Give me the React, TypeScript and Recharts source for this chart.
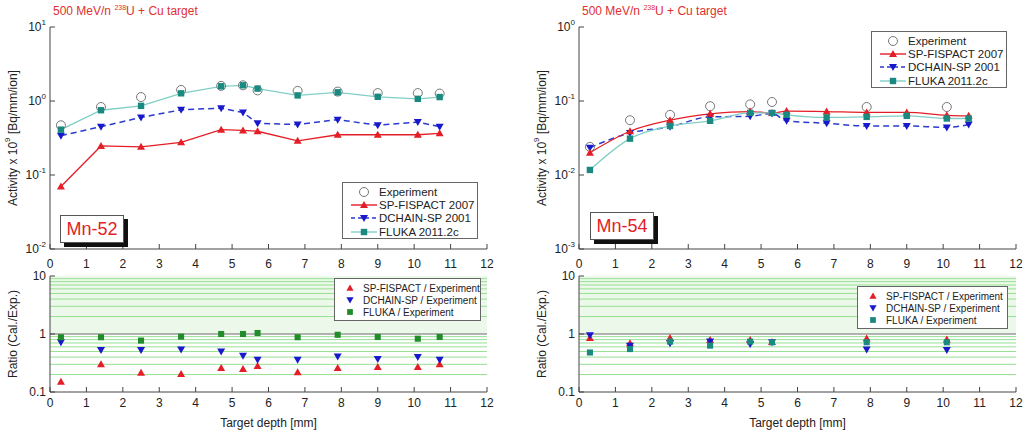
import React from "react";
import {
  ComposedChart,
  Line,
  XAxis,
  YAxis,
  ReferenceArea,
  ReferenceLine,
} from "recharts";

const FONT = "'Liberation Sans', Arial, sans-serif";

// target depth [mm] of each foil
const depth = [0.3, 1.4, 2.5, 3.6, 4.7, 5.3, 5.7, 6.8, 7.9, 9.0, 10.1, 10.7];
const xTicks = [0, 1, 2, 3, 4, 5, 6, 7, 8, 9, 10, 11, 12];

// Mn-52 activity x 10^9 [Bq/mm/ion]
const mn52Exp = [0.47, 0.83, 1.13, 1.41, 1.6, 1.63, 1.39, 1.37, 1.34, 1.28, 1.28, 1.26];
const mn52Fispact = [0.07, 0.247, 0.24, 0.276, 0.41, 0.4, 0.39, 0.29, 0.35, 0.35, 0.35, 0.366];
const mn52Dchain = [0.34, 0.45, 0.6, 0.76, 0.8, 0.7, 0.5, 0.48, 0.56, 0.47, 0.52, 0.45];
const mn52Fluka = [0.41, 0.75, 0.86, 1.27, 1.58, 1.63, 1.47, 1.19, 1.31, 1.14, 1.07, 1.13];

// Mn-52 ratio Cal./Exp.
const mn52RatioFispact = [0.15, 0.3, 0.215, 0.205, 0.26, 0.25, 0.28, 0.22, 0.26, 0.27, 0.27, 0.3];
const mn52RatioDchain = [0.72, 0.53, 0.53, 0.54, 0.5, 0.42, 0.36, 0.36, 0.41, 0.37, 0.4, 0.36];
const mn52RatioFluka = [0.88, 0.88, 0.77, 0.9, 1.0, 1.0, 1.04, 0.88, 0.97, 0.89, 0.83, 0.89];

// Mn-54 activity x 10^9 [Bq/mm/ion]
const mn54Exp = [0.024, 0.055, 0.065, 0.085, 0.09, 0.097, null, null, 0.083, null, 0.083, null];
const mn54Fispact = [0.02, 0.039, 0.055, 0.067, 0.072, 0.069, 0.073, 0.072, 0.07, 0.07, 0.064, 0.063];
const mn54Dchain = [0.0234, 0.037, 0.045, 0.061, 0.062, 0.068, 0.054, 0.05, 0.046, 0.046, 0.044, 0.048];
const mn54Fluka = [0.0117, 0.031, 0.046, 0.054, 0.069, 0.069, 0.065, 0.06, 0.061, 0.063, 0.058, 0.058];

// Mn-54 ratio Cal./Exp.
const mn54RatioFispact = [0.85, 0.69, 0.85, 0.79, 0.79, 0.73, null, null, 0.84, null, 0.8, null];
const mn54RatioDchain = [0.95, 0.63, 0.69, 0.74, 0.67, 0.72, null, null, 0.54, null, 0.53, null];
const mn54RatioFluka = [0.48, 0.55, 0.74, 0.63, 0.74, 0.72, null, null, 0.72, null, 0.72, null];

const RED = "#e41e26";
const BLUE = "#1818cc";
const TEAL = "#1a8a80";
const GREEN = "#228c2a";
const GRAY = "#777";
const AXIS = "#444";

type Col = (number | null)[];

const buildRows = (cols: Record<string, Col>) =>
  depth.map((x, i) => {
    const r: Record<string, number | undefined> = { x };
    Object.keys(cols).forEach((k) => {
      const v = cols[k][i];
      r[k] = v == null ? undefined : v;
    });
    return r;
  });

// tick positions for log axes
const logMinor = (from: number, to: number) => {
  const out: number[] = [];
  for (let d = from; d < to * 0.999; d *= 10) {
    for (let k = 1; k <= 9; k++) out.push(+(d * k).toPrecision(3));
  }
  out.push(to);
  return out;
};

const marker =
  (kind: string, color: string, s = 4) =>
  (p: any) => {
    const { cx, cy, index, value } = p;
    const key = `${kind}-${color}-${index}`;
    if (value == null || cx == null || cy == null || isNaN(cy)) return <g key={key} />;
    if (kind === "up")
      return (
        <polygon
          key={key}
          points={`${cx},${cy - s} ${cx - s},${cy + s * 0.75} ${cx + s},${cy + s * 0.75}`}
          fill={color}
        />
      );
    if (kind === "down")
      return (
        <polygon
          key={key}
          points={`${cx},${cy + s} ${cx - s},${cy - s * 0.75} ${cx + s},${cy - s * 0.75}`}
          fill={color}
        />
      );
    if (kind === "sq")
      return <rect key={key} x={cx - s * 0.8} y={cy - s * 0.8} width={s * 1.6} height={s * 1.6} fill={color} />;
    return <circle key={key} cx={cx} cy={cy} r={s} fill="none" stroke={color} strokeWidth={1} />;
  };

const PowTick = (props: any) => {
  const { x, y, payload } = props;
  const e = Math.round(Math.log10(payload.value));
  return (
    <text x={x} y={y} dy={4} textAnchor="end" fontSize={12} fill="#222" fontFamily={FONT}>
      <tspan>10</tspan>
      <tspan dy={-6} fontSize={8}>
        {e}
      </tspan>
    </text>
  );
};

const RatioTick = (props: any) => {
  const { x, y, payload } = props;
  return (
    <text x={x} y={y} dy={4} textAnchor="end" fontSize={12} fill="#222" fontFamily={FONT}>
      {payload.value}
    </text>
  );
};

const YTitle = (props: any) => {
  const { viewBox, children } = props;
  const cx = 13;
  const cy = viewBox.y + viewBox.height / 2;
  return (
    <text
      x={cx}
      y={cy}
      transform={`rotate(-90 ${cx} ${cy})`}
      textAnchor="middle"
      dominantBaseline="central"
      fontSize={12}
      fill="#222"
      fontFamily={FONT}
    >
      {children}
    </text>
  );
};

function ActivityChart({ rows, domain, curve }: { rows: any[]; domain: [number, number]; curve: any }) {
  const major = logMinor(domain[0], domain[1]).filter((v) => Math.abs(Math.log10(v) % 1) < 1e-6);
  const minor = logMinor(domain[0], domain[1]);
  return (
    <ComposedChart width={500} height={271} data={rows} margin={{ top: 27, right: 13, left: 0, bottom: 0 }}>
      <XAxis
        xAxisId="b"
        dataKey="x"
        type="number"
        domain={[0, 12]}
        ticks={xTicks}
        height={22}
        stroke={AXIS}
        tickSize={-5}
        tickMargin={15}
        tick={{ fontSize: 12, fill: "#222", fontFamily: FONT }}
        allowDataOverflow
      />
      <XAxis
        xAxisId="t"
        orientation="top"
        dataKey="x"
        type="number"
        domain={[0, 12]}
        ticks={xTicks}
        height={0}
        mirror
        tick={false}
        tickSize={5}
        stroke={AXIS}
      />
      <YAxis
        yAxisId="l"
        scale="log"
        domain={domain}
        ticks={major}
        allowDataOverflow
        width={50}
        stroke={AXIS}
        tickSize={-5}
        tickMargin={9}
        tick={<PowTick />}
        label={
          <YTitle>
            <tspan>Activity x 10</tspan>
            <tspan dy={-6} fontSize={8}>
              9
            </tspan>
            <tspan dy={6}> [Bq/mm/ion]</tspan>
          </YTitle>
        }
      />
      <YAxis
        yAxisId="r"
        orientation="right"
        scale="log"
        domain={domain}
        ticks={minor}
        allowDataOverflow
        width={0}
        mirror
        tick={false}
        tickSize={3}
        stroke={AXIS}
      />
      <Line
        xAxisId="b"
        yAxisId="l"
        dataKey="exp"
        stroke="none"
        dot={marker("circ", GRAY, 4.5)}
        activeDot={false}
        isAnimationActive={false}
      />
      <Line
        xAxisId="b"
        yAxisId="l"
        type={curve}
        dataKey="dch"
        stroke="#2a3ad0"
        strokeWidth={1.5}
        strokeDasharray="6 4"
        dot={marker("down", BLUE, 4)}
        activeDot={false}
        isAnimationActive={false}
      />
      <Line
        xAxisId="b"
        yAxisId="l"
        type={curve}
        dataKey="fis"
        stroke={RED}
        strokeWidth={1.3}
        dot={marker("up", RED, 4)}
        activeDot={false}
        isAnimationActive={false}
      />
      <Line
        xAxisId="b"
        yAxisId="l"
        type={curve}
        dataKey="flk"
        stroke="#80cfc6"
        strokeWidth={1.3}
        dot={marker("sq", TEAL, 4)}
        activeDot={false}
        isAnimationActive={false}
      />
    </ComposedChart>
  );
}

function RatioChart({ rows, flukaColor }: { rows: any[]; flukaColor: string }) {
  const minor = logMinor(0.1, 10);
  const gridLines = minor.filter((v) => v > 0.1 && v < 10 && v !== 1);
  return (
    <ComposedChart width={500} height={171} data={rows} margin={{ top: 14, right: 13, left: 0, bottom: 0 }}>
      <XAxis
        xAxisId="b"
        dataKey="x"
        type="number"
        domain={[0, 12]}
        ticks={xTicks}
        height={41}
        stroke={AXIS}
        tickSize={-5}
        tickMargin={11}
        tick={{ fontSize: 12, fill: "#222", fontFamily: FONT }}
        label={{
          value: "Target depth [mm]",
          position: "insideBottom",
          offset: 6,
          fontSize: 12,
          fill: "#222",
          fontFamily: FONT,
        }}
        allowDataOverflow
      />
      <XAxis
        xAxisId="t"
        orientation="top"
        dataKey="x"
        type="number"
        domain={[0, 12]}
        ticks={xTicks}
        height={0}
        mirror
        tick={false}
        tickSize={5}
        stroke={AXIS}
      />
      <YAxis
        yAxisId="l"
        scale="log"
        domain={[0.1, 10]}
        ticks={[0.1, 1, 10]}
        allowDataOverflow
        width={50}
        stroke={AXIS}
        tickSize={-5}
        tickMargin={9}
        tick={<RatioTick />}
        label={<YTitle>Ratio (Cal./Exp.)</YTitle>}
      />
      <YAxis
        yAxisId="r"
        orientation="right"
        scale="log"
        domain={[0.1, 10]}
        ticks={minor}
        allowDataOverflow
        width={0}
        mirror
        tick={false}
        tickSize={3}
        stroke={AXIS}
      />
      <ReferenceArea
        xAxisId="b"
        yAxisId="l"
        x1={0}
        x2={12}
        y1={1}
        y2={10}
        fill="#e4f5df"
        fillOpacity={0.7}
        stroke="none"
      />
      {gridLines.map((v) => (
        <ReferenceLine key={v} xAxisId="b" yAxisId="l" y={v} stroke="#96e092" strokeWidth={1} />
      ))}
      <ReferenceLine xAxisId="b" yAxisId="l" y={1} stroke="#9a9a9a" strokeWidth={1.5} />
      <Line
        xAxisId="b"
        yAxisId="l"
        dataKey="fis"
        stroke="none"
        dot={marker("up", RED, 4)}
        activeDot={false}
        isAnimationActive={false}
      />
      <Line
        xAxisId="b"
        yAxisId="l"
        dataKey="dch"
        stroke="none"
        dot={marker("down", BLUE, 4)}
        activeDot={false}
        isAnimationActive={false}
      />
      <Line
        xAxisId="b"
        yAxisId="l"
        dataKey="flk"
        stroke="none"
        dot={marker("sq", flukaColor, 3.8)}
        activeDot={false}
        isAnimationActive={false}
      />
    </ComposedChart>
  );
}

const Icon = ({ kind, color, line, dash }: { kind: string; color: string; line?: string; dash?: string }) => (
  <svg width={28} height={12} style={{ flex: "none" }}>
    {line && <line x1={1} y1={6} x2={27} y2={6} stroke={line} strokeWidth={1.4} strokeDasharray={dash} />}
    {marker(kind, color, kind === "circ" ? 4.5 : 4)({ cx: 14, cy: 6, index: 0, value: 1 })}
  </svg>
);

const ActivityLegend = ({ left, top }: { left: number; top: number }) => {
  const items = [
    { kind: "circ", color: GRAY, label: "Experiment" },
    { kind: "up", color: RED, line: RED, label: "SP-FISPACT 2007" },
    { kind: "down", color: BLUE, line: "#2a3ad0", dash: "4 3", label: "DCHAIN-SP 2001" },
    { kind: "sq", color: TEAL, line: "#80cfc6", label: "FLUKA 2011.2c" },
  ];
  return (
    <div
      style={{
        position: "absolute",
        left,
        top,
        width: 136,
        height: 57,
        border: "1px solid #666",
        background: "#fff",
        boxSizing: "border-box",
        paddingTop: 2,
        paddingLeft: 7,
        fontFamily: FONT,
        fontSize: 11.5,
        color: "#222",
      }}
    >
      {items.map((it) => (
        <div key={it.label} style={{ display: "flex", alignItems: "center", height: 13.4, whiteSpace: "nowrap" }}>
          <Icon kind={it.kind} color={it.color} line={it.line} dash={it.dash} />
          <span style={{ marginLeft: 1 }}>{it.label}</span>
        </div>
      ))}
    </div>
  );
};

const RatioLegend = ({ left, top, width, flukaColor }: { left: number; top: number; width: number; flukaColor: string }) => {
  const items = [
    { kind: "up", color: RED, label: "SP-FISPACT / Experiment" },
    { kind: "down", color: BLUE, label: "DCHAIN-SP / Experiment" },
    { kind: "sq", color: flukaColor, label: "FLUKA / Experiment" },
  ];
  return (
    <div
      style={{
        position: "absolute",
        left,
        top,
        width,
        height: 43,
        border: "1px solid #666",
        background: "#fff",
        boxSizing: "border-box",
        paddingTop: 3,
        paddingLeft: 8,
        fontFamily: FONT,
        fontSize: 10,
        color: "#222",
      }}
    >
      {items.map((it) => (
        <div key={it.label} style={{ display: "flex", alignItems: "center", height: 12, whiteSpace: "nowrap" }}>
          <svg width={14} height={10} style={{ flex: "none" }}>
            {marker(it.kind, it.color, 3.6)({ cx: 7, cy: 5, index: 0, value: 1 })}
          </svg>
          <span style={{ marginLeft: 6 }}>{it.label}</span>
        </div>
      ))}
    </div>
  );
};

const Title = ({ left }: { left: number }) => (
  <div style={{ position: "absolute", left, top: 4, fontFamily: FONT, fontSize: 12, color: "#e03030", whiteSpace: "nowrap" }}>
    500 MeV/n <sup style={{ fontSize: 7 }}>238</sup>U + Cu target
  </div>
);

const NuclideBox = ({ left, top, text }: { left: number; top: number; text: string }) => (
  <div
    style={{
      position: "absolute",
      left,
      top,
      width: 64,
      height: 28,
      border: "1px solid #555",
      background: "#fff",
      boxShadow: "4px 4px 0 #111",
      boxSizing: "border-box",
      fontFamily: FONT,
      fontSize: 18,
      color: "#e21e26",
      textAlign: "center",
      lineHeight: "26px",
    }}
  >
    {text}
  </div>
);

export default function App() {
  const mn52Rows = buildRows({ exp: mn52Exp, fis: mn52Fispact, dch: mn52Dchain, flk: mn52Fluka });
  const mn52RatioRows = buildRows({ fis: mn52RatioFispact, dch: mn52RatioDchain, flk: mn52RatioFluka });
  const mn54Rows = buildRows({ exp: mn54Exp, fis: mn54Fispact, dch: mn54Dchain, flk: mn54Fluka });
  const mn54RatioRows = buildRows({ fis: mn54RatioFispact, dch: mn54RatioDchain, flk: mn54RatioFluka });

  return (
    <div style={{ position: "absolute", left: 0, top: 0, width: 1030, height: 433, background: "#fff", overflow: "hidden" }}>
      {/* Mn-52 */}
      <div style={{ position: "absolute", left: 0, top: 0 }}>
        <ActivityChart rows={mn52Rows} domain={[0.01, 10]} curve="linear" />
      </div>
      <div style={{ position: "absolute", left: 0, top: 262 }}>
        <RatioChart rows={mn52RatioRows} flukaColor={GREEN} />
      </div>
      <Title left={53} />
      <NuclideBox left={60} top={215} text="Mn-52" />
      <ActivityLegend left={342} top={182} />
      <RatioLegend left={334} top={278} width={147} flukaColor={GREEN} />

      {/* Mn-54 */}
      <div style={{ position: "absolute", left: 529, top: 0 }}>
        <ActivityChart rows={mn54Rows} domain={[0.001, 1]} curve="monotone" />
      </div>
      <div style={{ position: "absolute", left: 529, top: 262 }}>
        <RatioChart rows={mn54RatioRows} flukaColor={TEAL} />
      </div>
      <Title left={582} />
      <NuclideBox left={590} top={212} text="Mn-54" />
      <ActivityLegend left={871} top={31} />
      <RatioLegend left={857} top={286} width={151} flukaColor={TEAL} />
    </div>
  );
}
